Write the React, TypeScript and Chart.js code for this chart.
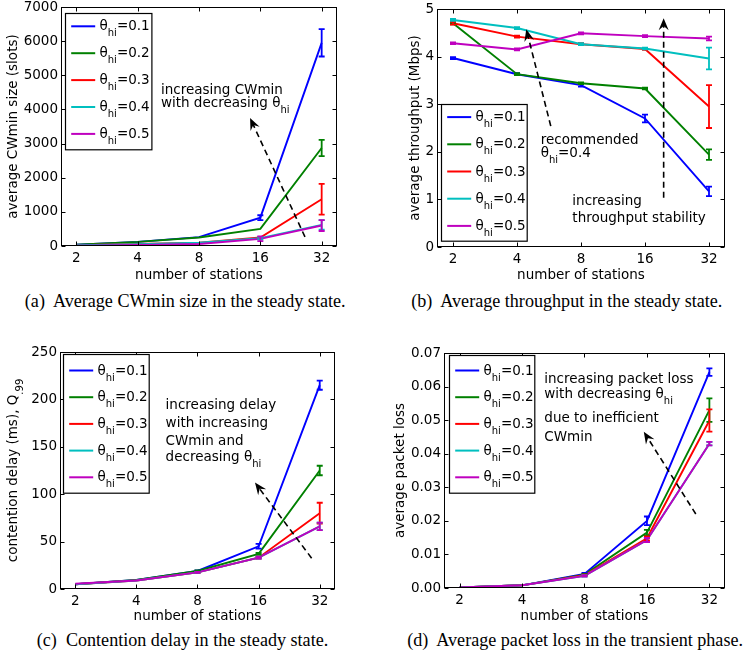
import React, { useEffect, useRef } from 'react';
import { Chart, registerables } from 'chart.js';

Chart.register(...registerables);

// ---------------- data ----------------
const stations = [2, 4, 8, 16, 32];
const xTickLabels = ['2', '4', '8', '16', '32'];
const thetaLabels = ['θ_{hi}=0.1', 'θ_{hi}=0.2', 'θ_{hi}=0.3', 'θ_{hi}=0.4', 'θ_{hi}=0.5'];
const seriesColors = ['#0000ff', '#008000', '#ff0000', '#00bfbf', '#bf00bf'];

// (a) average CWmin size (slots)
const cwT1 = [40, 120, 260, 830, 5950];
const cwT2 = [40, 120, 250, 500, 2870];
const cwT3 = [20, 60, 100, 250, 1370];
const cwT4 = [20, 50, 100, 230, 620];
const cwT5 = [10, 30, 60, 210, 600];
const cwT1Err = [0, 0, 0, 70, 400];
const cwT2Err = [0, 0, 0, 0, 240];
const cwT3Err = [0, 0, 0, 0, 450];
const cwT4Err = [0, 0, 0, 40, 140];
const cwT5Err = [0, 0, 0, 70, 160];
const cwTicks = ['0', '1000', '2000', '3000', '4000', '5000', '6000', '7000'];

// (b) average throughput (Mbps)
const tpT1 = [3.97, 3.63, 3.4, 2.7, 1.17];
const tpT2 = [4.7, 3.63, 3.44, 3.33, 1.94];
const tpT3 = [4.7, 4.42, 4.26, 4.16, 2.95];
const tpT4 = [4.77, 4.6, 4.26, 4.17, 3.96];
const tpT5 = [4.28, 4.15, 4.49, 4.43, 4.38];
const tpT1Err = [0.02, 0.02, 0.03, 0.08, 0.1];
const tpT2Err = [0.02, 0.02, 0.02, 0.02, 0.11];
const tpT3Err = [0.03, 0.02, 0.02, 0.02, 0.45];
const tpT4Err = [0.02, 0.02, 0.02, 0.02, 0.23];
const tpT5Err = [0.02, 0.02, 0.02, 0.02, 0.04];
const tpTicks = ['0', '1', '2', '3', '4', '5'];

// (c) contention delay (ms), Q.99
const cdT1 = [5, 9.5, 19, 45, 215];
const cdT2 = [5, 9.5, 19, 37, 125];
const cdT3 = [5, 9, 17.5, 33, 80];
const cdT4 = [5, 9, 17.5, 33, 66];
const cdT5 = [5.5, 9, 17.5, 33, 66];
const cdT1Err = [0, 0, 0.5, 2.5, 4.8];
const cdT2Err = [0, 0, 0.5, 1, 5];
const cdT3Err = [0, 0, 0.5, 1, 11];
const cdT4Err = [0, 0, 0.5, 1, 4];
const cdT5Err = [0, 0, 0.5, 1, 4];
const cdTicks = ['0', '50', '100', '150', '200', '250'];

// (d) average packet loss
const plT1 = [0.0002, 0.0008, 0.0042, 0.02, 0.0643];
const plT2 = [0.0002, 0.0008, 0.004, 0.0165, 0.053];
const plT3 = [0.0002, 0.0008, 0.0038, 0.0148, 0.0499];
const plT4 = [0.0002, 0.0008, 0.0036, 0.0143, 0.043];
const plT5 = [0.0002, 0.0008, 0.0036, 0.0143, 0.043];
const plT1Err = [0, 0, 0.0003, 0.0013, 0.0011];
const plT2Err = [0, 0, 0.0002, 0.0008, 0.0035];
const plT3Err = [0, 0, 0.0002, 0.0006, 0.0033];
const plT4Err = [0, 0, 0.0002, 0.0006, 0.0005];
const plT5Err = [0, 0, 0.0002, 0.0006, 0.0005];
const plTicks = ['0.00', '0.01', '0.02', '0.03', '0.04', '0.05', '0.06', '0.07'];

// ---------------- layout / style ----------------
const FONT = '"DejaVu Sans", sans-serif';
const F = 13.5;
const SUB_F = 10;
const SUB_DY = 6;
const CAP_F = 18.1;

type Note = { text: string; fx: number; fy: number };
type Arrow = { x1: number; y1: number; x2: number; y2: number };
type Panel = {
  canvas: { x: number; y: number; w: number; h: number };
  area: { l: number; t: number; r: number; b: number };
  yMax: number;
  yStep: number;
  yTicks: string[];
  yTitle: string;
  yTitleX: number;
  series: number[][];
  errors: number[][];
  legend: { x: number; y: number; w: number; h: number; row0: number; gap: number };
  notes: Note[];
  arrows: Arrow[];
  caption: { text: string; cx?: number; right?: number; baseline: number };
};

const panels: Panel[] = [
  {
    canvas: { x: 0, y: -7, w: 373, h: 291 },
    area: { l: 61, t: 7, r: 337, b: 246 },
    yMax: 7000, yStep: 1000, yTicks: cwTicks,
    yTitle: 'average CWmin size (slots)', yTitleX: 13.3,
    series: [cwT1, cwT2, cwT3, cwT4, cwT5],
    errors: [cwT1Err, cwT2Err, cwT3Err, cwT4Err, cwT5Err],
    legend: { x: 65.3, y: 12.7, w: 86.4, h: 136.3, row0: 12.8, gap: 26.9 },
    notes: [
      { text: 'increasing CWmin', fx: 0.362, fy: 0.347 },
      { text: 'with decreasing θ_{hi}', fx: 0.362, fy: 0.403 },
    ],
    arrows: [{ x1: 0.884, y1: 0.962, x2: 0.685, y2: 0.464 }],
    caption: { text: '(a)  Average CWmin size in the steady state.', cx: 185.2, baseline: 306.7 },
  },
  {
    canvas: { x: 373, y: -7, w: 374, h: 291 },
    area: { l: 437, t: 9, r: 725, b: 247 },
    yMax: 5, yStep: 1, yTicks: tpTicks,
    yTitle: 'average throughput (Mbps)', yTitleX: 415.3,
    series: [tpT1, tpT2, tpT3, tpT4, tpT5],
    errors: [tpT1Err, tpT2Err, tpT3Err, tpT4Err, tpT5Err],
    legend: { x: 441.3, y: 104.3, w: 85.7, h: 136.7, row0: 12.6, gap: 27.2 },
    notes: [
      { text: 'recommended', fx: 0.36, fy: 0.55 },
      { text: 'θ_{hi}=0.4', fx: 0.36, fy: 0.606 },
      { text: 'increasing', fx: 0.47, fy: 0.805 },
      { text: 'throughput stability', fx: 0.47, fy: 0.879 },
    ],
    arrows: [
      { x1: 0.395, y1: 0.492, x2: 0.31, y2: 0.085 },
      { x1: 0.787, y1: 0.793, x2: 0.787, y2: 0.039 },
    ],
    caption: { text: '(b)  Average throughput in the steady state.', cx: 566.8, baseline: 306.7 },
  },
  {
    canvas: { x: 0, y: 338, w: 373, h: 287 },
    area: { l: 60, t: 352, r: 335, b: 589 },
    yMax: 250, yStep: 50, yTicks: cdTicks,
    yTitle: 'contention delay (ms), Q_{.99}', yTitleX: 13.3,
    series: [cdT1, cdT2, cdT3, cdT4, cdT5],
    errors: [cdT1Err, cdT2Err, cdT3Err, cdT4Err, cdT5Err],
    legend: { x: 63.3, y: 354, w: 85.7, h: 138.7, row0: 16, gap: 26.7 },
    notes: [
      { text: 'increasing delay', fx: 0.384, fy: 0.224 },
      { text: 'with increasing', fx: 0.384, fy: 0.301 },
      { text: 'CWmin and', fx: 0.384, fy: 0.374 },
      { text: 'decreasing θ_{hi}', fx: 0.384, fy: 0.444 },
    ],
    arrows: [{ x1: 0.915, y1: 0.87, x2: 0.709, y2: 0.551 }],
    caption: { text: '(c)  Contention delay in the steady state.', cx: 182.5, baseline: 646 },
  },
  {
    canvas: { x: 373, y: 338, w: 374, h: 287 },
    area: { l: 444, t: 353, r: 725, b: 588 },
    yMax: 0.07, yStep: 0.01, yTicks: plTicks,
    yTitle: 'average packet loss', yTitleX: 400.3,
    series: [plT1, plT2, plT3, plT4, plT5],
    errors: [plT1Err, plT2Err, plT3Err, plT4Err, plT5Err],
    legend: { x: 449, y: 355, w: 85.3, h: 137.7, row0: 15, gap: 26.7 },
    notes: [
      { text: 'increasing packet loss', fx: 0.357, fy: 0.111 },
      { text: 'with decreasing θ_{hi}', fx: 0.357, fy: 0.174 },
      { text: 'due to inefficient', fx: 0.357, fy: 0.278 },
      { text: 'CWmin', fx: 0.357, fy: 0.356 },
    ],
    arrows: [{ x1: 0.896, y1: 0.685, x2: 0.711, y2: 0.335 }],
    caption: { text: '(d)  Average packet loss in the transient phase.', right: 743, baseline: 646 },
  },
];

// ---------------- drawing helpers ----------------
function richParts(text: string) {
  const parts: { t: string; sub: boolean }[] = [];
  const re = /_\{([^}]*)\}/g;
  let last = 0;
  let m: RegExpExecArray | null;
  while ((m = re.exec(text))) {
    if (m.index > last) parts.push({ t: text.slice(last, m.index), sub: false });
    parts.push({ t: m[1], sub: true });
    last = re.lastIndex;
  }
  if (last < text.length) parts.push({ t: text.slice(last), sub: false });
  return parts;
}

function drawRich(ctx: CanvasRenderingContext2D, text: string, x: number, yMid: number, align: 'left' | 'center') {
  const parts = richParts(text);
  const widths = parts.map((p) => {
    ctx.font = `${p.sub ? SUB_F : F}px ${FONT}`;
    return ctx.measureText(p.t).width;
  });
  const total = widths.reduce((a, b) => a + b, 0);
  let cur = align === 'center' ? x - total / 2 : x;
  const base = yMid + 0.3 * F;
  ctx.textAlign = 'left';
  ctx.textBaseline = 'alphabetic';
  ctx.fillStyle = '#000';
  parts.forEach((p, i) => {
    ctx.font = `${p.sub ? SUB_F : F}px ${FONT}`;
    ctx.fillText(p.t, cur, p.sub ? base + SUB_DY : base);
    cur += widths[i];
  });
}

function drawArrow(ctx: CanvasRenderingContext2D, x1: number, y1: number, x2: number, y2: number) {
  const ang = Math.atan2(y2 - y1, x2 - x1);
  const dx = Math.cos(ang), dy = Math.sin(ang);
  const px = -dy, py = dx;
  const L = 12, W = 5;
  ctx.save();
  ctx.strokeStyle = '#000';
  ctx.lineWidth = 1.6;
  ctx.setLineDash([6, 4]);
  ctx.beginPath();
  ctx.moveTo(x1, y1);
  ctx.lineTo(x2 - dx * L * 0.6, y2 - dy * L * 0.6);
  ctx.stroke();
  ctx.setLineDash([]);
  ctx.fillStyle = '#000';
  ctx.beginPath();
  ctx.moveTo(x2, y2);
  ctx.lineTo(x2 - dx * L + px * W, y2 - dy * L + py * W);
  ctx.lineTo(x2 - dx * L * 0.65, y2 - dy * L * 0.65);
  ctx.lineTo(x2 - dx * L - px * W, y2 - dy * L - py * W);
  ctx.closePath();
  ctx.fill();
  ctx.restore();
}

function makeDecor(p: Panel) {
  return {
    id: 'decor',
    afterDatasetsDraw(chart: any) {
      const ctx: CanvasRenderingContext2D = chart.ctx;
      const xs = chart.scales.x, ys = chart.scales.y;
      p.series.forEach((vals, di) => {
        const errs = p.errors[di];
        ctx.save();
        ctx.strokeStyle = seriesColors[di];
        ctx.lineWidth = 1.8;
        vals.forEach((v, i) => {
          const e = errs[i];
          if (!e) return;
          const x = xs.getPixelForValue(stations[i]);
          const top = ys.getPixelForValue(v + e);
          const bot = ys.getPixelForValue(v - e);
          ctx.beginPath();
          ctx.moveTo(x, top);
          ctx.lineTo(x, bot);
          ctx.moveTo(x - 3, top);
          ctx.lineTo(x + 3, top);
          ctx.moveTo(x - 3, bot);
          ctx.lineTo(x + 3, bot);
          ctx.stroke();
        });
        ctx.restore();
      });
    },
    afterDraw(chart: any) {
      const ctx: CanvasRenderingContext2D = chart.ctx;
      const a = chart.chartArea;
      const xs = chart.scales.x, ys = chart.scales.y;
      const cx = p.canvas.x, cy = p.canvas.y;
      ctx.save();
      // frame
      ctx.strokeStyle = '#000';
      ctx.lineWidth = 1;
      const L = Math.round(a.left) + 0.5, R = Math.round(a.right) - 0.5;
      const T = Math.round(a.top) + 0.5, B = Math.round(a.bottom) - 0.5;
      ctx.strokeRect(L, T, R - L, B - T);
      // inward ticks
      ctx.beginPath();
      stations.forEach((s) => {
        const x = Math.round(xs.getPixelForValue(s)) + 0.5;
        ctx.moveTo(x, B); ctx.lineTo(x, B - 4);
        ctx.moveTo(x, T); ctx.lineTo(x, T + 4);
      });
      p.yTicks.forEach((_, i) => {
        const y = Math.round(ys.getPixelForValue(i * p.yStep)) + 0.5;
        ctx.moveTo(L, y); ctx.lineTo(L + 4, y);
        ctx.moveTo(R, y); ctx.lineTo(R - 4, y);
      });
      ctx.stroke();

      // legend
      const lg = p.legend;
      const lx = Math.round(lg.x - cx) + 0.5, ly = Math.round(lg.y - cy) + 0.5;
      ctx.fillStyle = '#fff';
      ctx.fillRect(lx, ly, lg.w, lg.h);
      ctx.strokeStyle = '#000';
      ctx.lineWidth = 1.2;
      ctx.strokeRect(lx, ly, lg.w, lg.h);
      thetaLabels.forEach((lab, i) => {
        const ry = ly + lg.row0 + i * lg.gap;
        ctx.strokeStyle = seriesColors[i];
        ctx.lineWidth = 2;
        ctx.beginPath();
        ctx.moveTo(lx + 5.7, ry);
        ctx.lineTo(lx + 29.7, ry);
        ctx.stroke();
        drawRich(ctx, lab, lx + 34, ry, 'left');
      });

      // notes
      const w = a.right - a.left, h = a.bottom - a.top;
      p.notes.forEach((n) => drawRich(ctx, n.text, a.left + n.fx * w, a.top + n.fy * h, 'left'));
      p.arrows.forEach((ar) =>
        drawArrow(ctx, a.left + ar.x1 * w, a.top + ar.y1 * h, a.left + ar.x2 * w, a.top + ar.y2 * h)
      );

      // y title
      ctx.save();
      ctx.translate(p.yTitleX - cx, (a.top + a.bottom) / 2);
      ctx.rotate(-Math.PI / 2);
      drawRich(ctx, p.yTitle, 0, 0, 'center');
      ctx.restore();

      ctx.restore();
    },
  };
}

function PanelChart({ p }: { p: Panel }) {
  const ref = useRef<HTMLCanvasElement>(null);
  useEffect(() => {
    if (!ref.current) return;
    const cx = p.canvas.x, cy = p.canvas.y;
    const chart = new Chart(ref.current, {
      type: 'line',
      data: {
        datasets: p.series.map((vals, i) => ({
          label: thetaLabels[i],
          data: stations.map((s, j) => ({ x: s, y: vals[j] })),
          borderColor: seriesColors[i],
          backgroundColor: seriesColors[i],
          borderWidth: 1.9,
          pointRadius: 0,
          pointHoverRadius: 0,
          tension: 0,
          fill: false,
          order: p.series.length - 1 - i,
        })),
      },
      options: {
        animation: false,
        responsive: false,
        devicePixelRatio: 1,
        events: [],
        layout: {
          padding: { left: 0, top: p.area.t - cy, right: cx + p.canvas.w - p.area.r, bottom: 0 },
        },
        plugins: { legend: { display: false }, tooltip: { enabled: false }, title: { display: false } },
        scales: {
          x: {
            type: 'logarithmic',
            min: Math.pow(2, 0.75),
            max: Math.pow(2, 5.25),
            afterBuildTicks: (s: any) => {
              s.ticks = stations.map((v) => ({ value: v }));
            },
            afterFit: (s: any) => {
              s.height = cy + p.canvas.h - p.area.b;
            },
            grid: { display: false, drawTicks: false },
            border: { display: false },
            ticks: {
              autoSkip: false,
              maxRotation: 0,
              padding: 4,
              color: '#000',
              font: { family: FONT, size: F },
              callback: (v: any) => xTickLabels[stations.indexOf(Number(v))] ?? '',
            },
            title: {
              display: true,
              text: 'number of stations',
              color: '#000',
              font: { family: FONT, size: F },
              padding: { top: 0, bottom: 0 },
            },
          },
          y: {
            type: 'linear',
            min: 0,
            max: p.yMax,
            afterFit: (s: any) => {
              s.width = p.area.l - cx;
            },
            grid: { display: false, drawTicks: false },
            border: { display: false },
            ticks: {
              stepSize: p.yStep,
              padding: 3,
              color: '#000',
              font: { family: FONT, size: F },
              callback: (v: any) => p.yTicks[Math.round(Number(v) / p.yStep)] ?? '',
            },
          },
        },
      } as any,
      plugins: [makeDecor(p)],
    });
    return () => chart.destroy();
  }, [p]);
  return (
    <canvas
      ref={ref}
      width={p.canvas.w}
      height={p.canvas.h}
      style={{ position: 'absolute', left: p.canvas.x, top: p.canvas.y, width: p.canvas.w, height: p.canvas.h }}
    />
  );
}

export default function App() {
  return (
    <div style={{ position: 'absolute', left: 0, top: 0, width: 747, height: 658, overflow: 'hidden', background: '#fff' }}>
      {panels.map((p, i) => (
        <PanelChart key={i} p={p} />
      ))}
      {panels.map((p, i) => {
        const c = p.caption;
        const pos: React.CSSProperties =
          c.right !== undefined
            ? { right: 747 - c.right }
            : { left: c.cx, transform: 'translateX(-50%)' };
        return (
          <div
            key={'c' + i}
            style={{
              position: 'absolute',
              ...pos,
              top: c.baseline - 0.8375 * CAP_F,
              fontFamily: '"Liberation Serif", "Times New Roman", serif',
              fontSize: CAP_F,
              lineHeight: 1,
              whiteSpace: 'pre',
              color: '#000',
            }}
          >
            {c.text}
          </div>
        );
      })}
    </div>
  );
}
